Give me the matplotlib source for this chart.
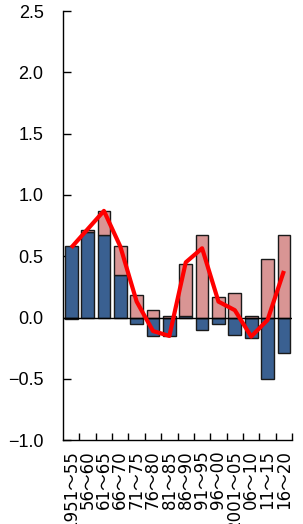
import matplotlib
matplotlib.use("Agg")
import matplotlib.pyplot as plt
import numpy as np

# periods and the two contributions
periods = ["1951～55", "56～60", "61～65", "66～70", "71～75", "76～80", "81～85",
           "86～90", "91～95", "96～00", "2001～05", "06～10", "11～15", "16～20"]
blue = [0.58, 0.70, 0.67, 0.35, -0.05, -0.15, -0.15, 0.01, -0.10, -0.05, -0.14, -0.17, -0.50, -0.29]
pink = [-0.015, 0.01, 0.20, 0.23, 0.18, 0.06, 0.01, 0.43, 0.67, 0.17, 0.20, 0.01, 0.48, 0.67]
total = [0.57, 0.72, 0.87, 0.58, 0.13, -0.11, -0.15, 0.45, 0.565, 0.13, 0.06, -0.155, -0.02, 0.38]

yticks = [-1.0, -0.5, 0.0, 0.5, 1.0, 1.5, 2.0, 2.5]

fig = plt.figure(figsize=(3.03, 5.24), dpi=100)
ax = fig.add_axes([0.208, 0.160, 0.756, 0.819])

x = np.arange(len(periods))
b = np.array(blue)
p = np.array(pink)
# excel-like stacking: same sign stacks on blue, opposite sign starts at 0
pbottom = np.where(np.sign(p) == np.sign(b), b, 0.0)

ax.bar(x, b, width=0.78, color="#3A6091", edgecolor="#1a1a1a", linewidth=1.0, zorder=2)
ax.bar(x, p, bottom=pbottom, width=0.78, color="#D99594", edgecolor="#1a1a1a", linewidth=1.0, zorder=2)
ax.axhline(0, color="black", linewidth=1.0, zorder=3)
ax.plot(x, total, color="#FF0000", linewidth=3.0, zorder=4, solid_capstyle="butt")

ax.set_xlim(-0.5, len(periods) - 0.5)
ax.set_ylim(-1.0, 2.5)
ax.set_yticks(yticks)
ax.set_yticklabels(["\u22121.0", "\u22120.5", "0.0", "0.5", "1.0", "1.5", "2.0", "2.5"],
                   family=["Liberation Sans"], fontsize=13)

ax.set_xticks(x)
ax.set_xticklabels(periods, rotation=90, family=["DejaVu Sans", "Noto Sans CJK JP"], fontsize=12)
ax.set_xticks(np.arange(0.5, len(periods)), minor=True)
ax.tick_params(axis="x", which="major", length=0, pad=7)
ax.tick_params(axis="x", which="minor", direction="in", length=5, width=1)
ax.tick_params(axis="y", direction="in", length=6, width=1, pad=14)

for s in ["top", "right"]:
    ax.spines[s].set_visible(False)
for s in ["left", "bottom"]:
    ax.spines[s].set_linewidth(1.0)

fig.savefig("out.png", dpi=100)
